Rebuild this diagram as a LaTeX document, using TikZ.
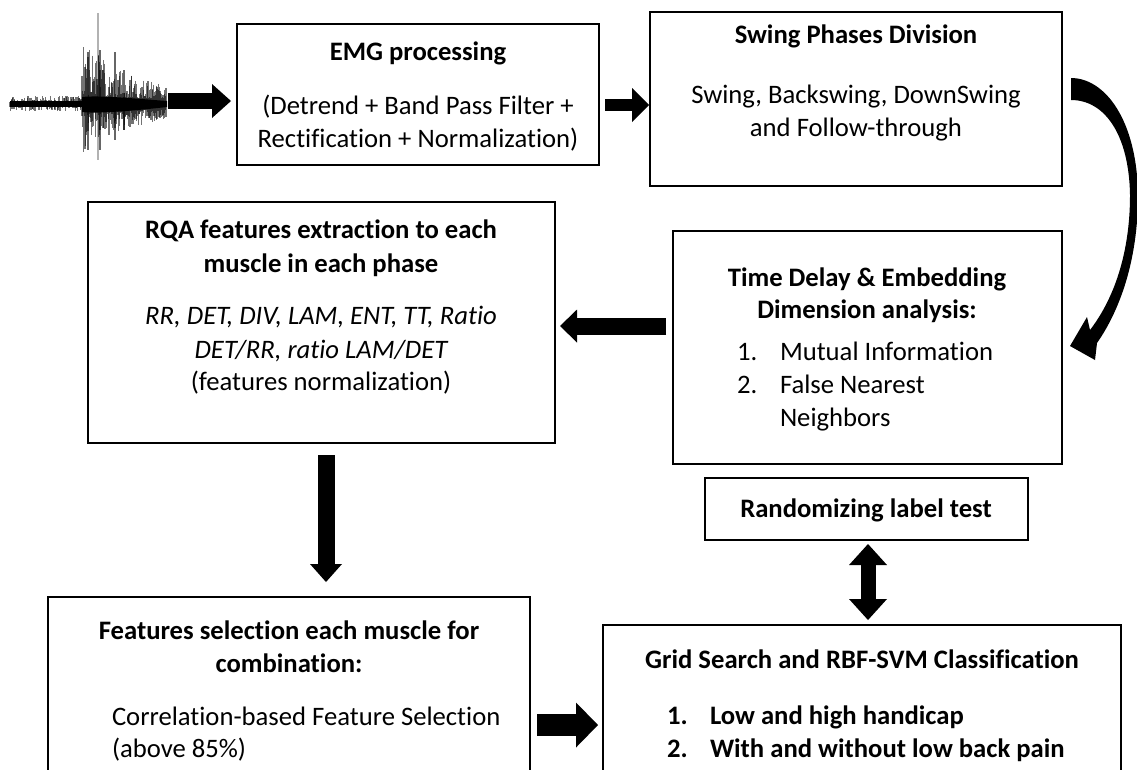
\documentclass[tikz,border=0pt]{standalone}
\usepackage{fontspec}
\setmainfont{Carlito}[Ligatures={TeX,NoCommon}]
\usetikzlibrary{arrows.meta,calc,fit}
\newcommand\txtsize{\fontsize{20}{24}\selectfont}
\begin{document}
\begin{tikzpicture}[x=0.75pt,y=-0.75pt,
  box/.style={draw=black,line width=1pt,inner sep=0pt,outer sep=0pt},
  t/.style={inner sep=0pt,outer sep=0pt,anchor=base,font=\txtsize},
  tl/.style={t,anchor=base west},
  tb/.style={t,font=\txtsize\bfseries},
  tbl/.style={tb,anchor=base west},
  ti/.style={t,font=\txtsize\itshape},
  sig/.style={line width=0.8pt,black,opacity=0.55},
  fat/.style n args={3}{line width=#1,draw=black,-{Triangle[length=#3,width=#2,line width=0pt]}},
  fatboth/.style n args={3}{line width=#1,draw=black,{Triangle[length=#3,width=#2,line width=0pt]}-{Triangle[length=#3,width=#2,line width=0pt]}},
]
\clip (0,0) rectangle (1137,769);
\fill[white] (0,0) rectangle (1137,769);

% ---- raw EMG trace ----
\pgfmathsetseed{42}
\fill[black] (10,101) rectangle (167,107);
\foreach \i in {0,...,120}{
  \pgfmathsetmacro\xx{10+\i*0.6}
  \pgfmathsetmacro\ya{104-2-6*pow(rnd,2)}
  \pgfmathsetmacro\yb{104+2+5*pow(rnd,2)}
  \draw[sig] (\xx,\ya) -- (\xx,\yb);
}
% burst: core plus decaying spikes
\fill[black] (82,97) .. controls (100,95) and (140,99) .. (167,101) -- (167,107)
  .. controls (140,110) and (100,114) .. (82,112) -- cycle;
\foreach \i in {0,...,140}{
  \pgfmathsetmacro\xx{82+\i*0.6}
  \pgfmathsetmacro\env{exp(-(\xx-82)/55)}
  \pgfmathsetmacro\ya{104-(6+58*\env*pow(rnd,1.3))}
  \pgfmathsetmacro\yb{104+(6+44*\env*pow(rnd,1.3))}
  \draw[sig] (\xx,\ya) -- (\xx,\yb);
}
\draw[sig,opacity=0.3,line width=0.9pt] (98,13) -- (98,160);
\draw[sig,opacity=0.6,line width=0.9pt] (88,52) -- (88,150) (115,52) -- (115,140) (100,50) -- (100,150) (124,70) -- (124,130);
\coordinate (sigend) at (168,101);

% ---- boxes ----
\coordinate (emgA) at (237,24);   \coordinate (emgB) at (599,165);
\coordinate (swA) at (650,12);    \coordinate (swB) at (1062,186);
\coordinate (rqaA) at (88,202);   \coordinate (rqaB) at (555,443);
\coordinate (tdA) at (673,231);   \coordinate (tdB) at (1062,464);
\coordinate (rndA) at (705,478);  \coordinate (rndB) at (1028,540);
\coordinate (fsA) at (48,597);    \coordinate (fsB) at (530,800);
\coordinate (gsA) at (603,625);   \coordinate (gsB) at (1121,800);
\node[box,fit=(emgA)(emgB)] (emg) {};
\node[box,fit=(swA)(swB)] (swing) {};
\node[box,fit=(rqaA)(rqaB)] (rqa) {};
\node[box,fit=(tdA)(tdB)] (delay) {};
\node[box,fit=(rndA)(rndB)] (rand) {};
\node[box,fit=(fsA)(fsB)] (feat) {};
\node[box,fit=(gsA)(gsB)] (grid) {};

% ---- texts ----
\node[tb] (emgT) at (418,60) {EMG processing};
\node[t] (emgL1) at (418,114) {(Detrend + Band Pass Filter +};
\node[t] (emgL2) at (418,147) {Rectification + Normalization)};

\node[tb] (swT) at (856,43) {Swing Phases Division};
\node[t] (swL1) at (856,103) {Swing, Backswing, DownSwing};
\node[t] (swL2) at (856,136) {and Follow-through};

\node[tb] (rqaT1) at (321,238) {RQA features extraction to each};
\node[tb] (rqaT2) at (321,272) {muscle in each phase};
\node[ti] (rqaL1) at (321,324) {RR, DET, DIV, LAM, ENT, TT, Ratio};
\node[ti] (rqaL2) at (321,358) {DET/RR, ratio LAM/DET};
\node[t] (rqaL3) at (321,390) {(features normalization)};

\node[tb] (tdT1) at (867,286) {Time Delay \& Embedding};
\node[tb] (tdT2) at (867,318) {Dimension analysis:};
\node[tl] (tdN1) at (737,360) {1.};
\node[tl] (tdI1) at (780,360) {Mutual Information};
\node[tl] (tdN2) at (737,393) {2.};
\node[tl] (tdI2) at (780,393) {False Nearest};
\node[tl] (tdI2b) at (780,426) {Neighbors};

\node[tb] (rndT) at (866,517) {Randomizing label test};

\node[tb] (fsT1) at (289,639) {Features selection each muscle for};
\node[tb] (fsT2) at (289,672) {combination:};
\node[tl] (fsL1) at (112,725) {Correlation-based Feature Selection};
\node[tl] (fsL2) at (112,757) {(above 85\%)};

\node[tb] (gsT) at (862,668) {Grid Search and RBF-SVM Classification};
\node[tbl] (gsN1) at (667,724) {1.};
\node[tbl] (gsI1) at (710,724) {Low and high handicap};
\node[tbl] (gsN2) at (667,757) {2.};
\node[tbl] (gsI2) at (710,757) {With and without low back pain};

% ---- block arrows ----
\draw[fat={12pt}{25.5pt}{14.25pt},shorten >=4.5pt] (sigend) -- (emg.west |- sigend);
\draw[fat={9pt}{25.5pt}{12.75pt}] ($(emg.east)+(6,10.5)$) -- ($(swing.west)+(-1,6)$);
\draw[fat={12.75pt}{24.75pt}{12.75pt}] ($(delay.west)+(-7,-21.5)$) -- ($(rqa.east)+(5,3.5)$);
\draw[fat={12.75pt}{24pt}{13.5pt}] ($(rqa.south)+(4.5,12)$) -- ($(feat.north)+(37,-15)$);
\draw[fat={16.5pt}{33.75pt}{16.5pt}] ($(feat.east)+(7,26.5)$) -- ($(grid.west)+(-5,12.5)$);
\draw[fatboth={11.25pt}{28.5pt}{15.75pt}] ($(rand.south)+(1.5,4)$) -- ($(grid.north)+(6,-5)$);

% ---- curved arrow from the phase box down to the delay box ----
\fill[black] (1071,78) .. controls (1105,78) and (1137,120) .. (1138,195)
  .. controls (1138,260) and (1120,310) .. (1097,343)
  -- (1095,360) -- (1070,346) -- (1087,317) -- (1090,330)
  .. controls (1113,300) and (1130,255) .. (1130,195)
  .. controls (1129,135) and (1105,100) .. (1071,100) -- cycle;
\end{tikzpicture}
\end{document}
